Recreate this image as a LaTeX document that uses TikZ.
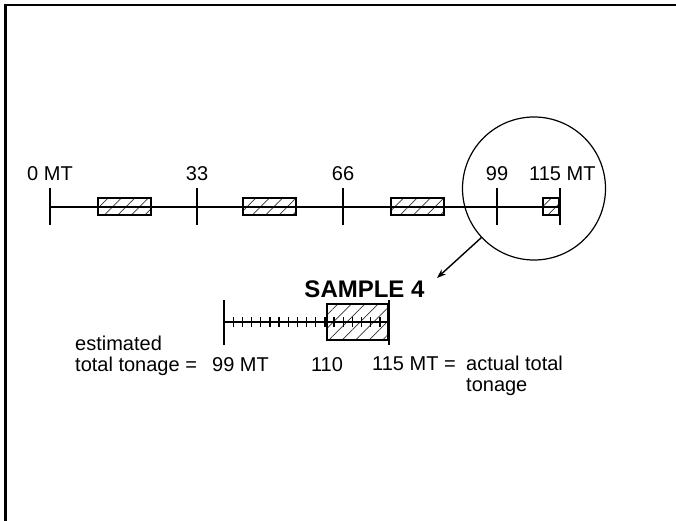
\documentclass[tikz,border=0pt]{standalone}
\usepackage{fontspec}
\setmainfont{Liberation Sans}
\usetikzlibrary{arrows.meta,positioning,calc,patterns.meta}

\begin{document}
\begin{tikzpicture}[x=1pt,y=-1pt,>={Stealth[length=9pt,width=6.5pt]},
    scaleline/.style={line width=1.6pt},
    minortick/.style={line width=1.3pt},
    lbl/.style={font=\fontsize{20}{21}\selectfont,inner sep=0pt,anchor=base},
    hatchbox/.style={draw,line width=1.6pt,inner sep=0pt,
      pattern={Lines[angle=45,distance=9.5pt,line width=0.7pt]},pattern color=black!80}]
  \useasboundingbox (0,0) rectangle (676,521);
  \draw[line width=2.6pt] (5.5,521) -- (5.5,5) -- (676,5);

  % full lot, sampled every 33 MT
  \coordinate (t0) at (50,207);
  \coordinate (t115) at (560,207);
  \node[hatchbox,minimum width=53.5pt,minimum height=17.5pt] (s1) at (124.5,206.5) {};
  \node[hatchbox,minimum width=53.5pt,minimum height=17.5pt] (s2) at (269.5,206.5) {};
  \node[hatchbox,minimum width=53.5pt,minimum height=17.5pt] (s3) at (417.5,206.5) {};
  \node[hatchbox,minimum width=16.5pt,minimum height=17.5pt] (s4) at (551,206.5) {};
  \draw[scaleline] (t0) -- (t115);
  \foreach \x in {50,197,343,497,560}
    \draw[scaleline] (\x,188.5) -- (\x,224.5);

  \node[lbl] (l0) at (50,181) {0 MT};
  \node[lbl] (l33) at (197,181) {33};
  \node[lbl] (l66) at (343,181) {66};
  \node[lbl] (l99) at (497,181) {99};
  \node[lbl,anchor=base west] (l115) at (529,181) {115 MT};

  \node[draw,circle,line width=1.2pt,minimum size=143pt,inner sep=0pt] (zoomc) at (534,188.5) {};
  \coordinate (tip) at (437,278);
  \draw[->,line width=1.4pt] (zoomc.223) -- (tip);

  % last sample, enlarged
  \node[lbl,font=\fontsize{24}{26}\selectfont\bfseries] (title) at (364.5,297) {SAMPLE 4};
  \coordinate (b99) at (224,322);
  \coordinate (b115) at (389,322);
  \node[hatchbox,minimum width=61.5pt,minimum height=36.5pt] (last) at (357.5,322) {};
  \draw[scaleline] (b99) -- (b115);
  \foreach \k in {1,...,17}
    \draw[minortick] ($(b99)+(\k*9.17,-5)$) -- ++(0,10);
  \draw[scaleline] (224,300) -- (224,345);
  \draw[scaleline] (389,300) -- (389,345);

  \node[lbl,anchor=base west,align=left] (est) at (75,371) {estimated\\total tonage =};
  \node[lbl,anchor=base west] (l99b) at (212,371) {99 MT};
  \node[lbl] (l110) at (327,371) {110};
  \node[lbl,anchor=base west] (l115b) at (372,370) {115 MT =};
  \node[lbl,anchor=base west,align=left] (act) at (466,391) {actual total\\tonage};
\end{tikzpicture}
\end{document}
